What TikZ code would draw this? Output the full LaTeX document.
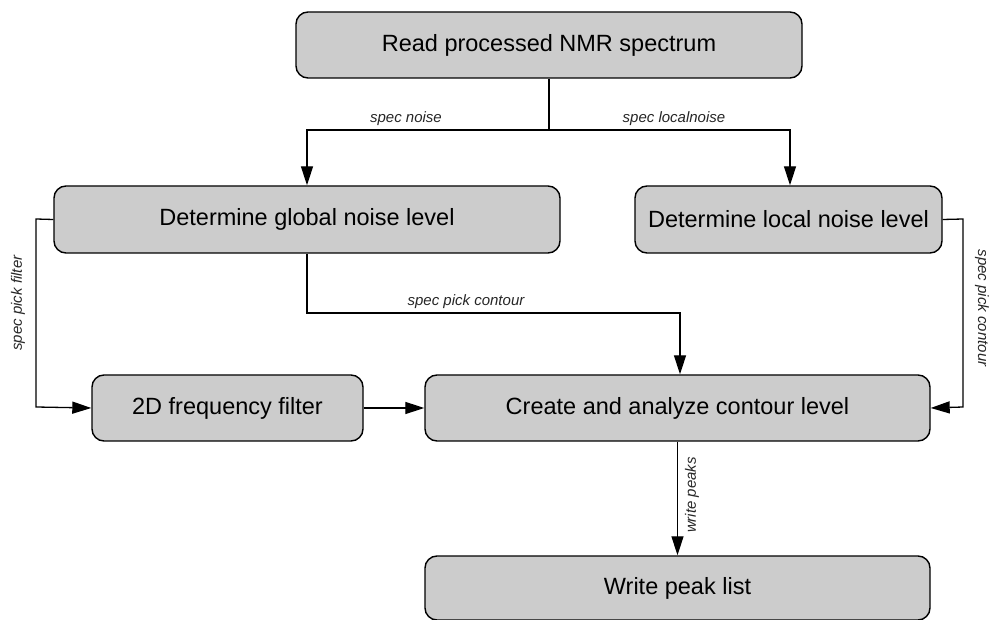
\documentclass[tikz,border=0pt]{standalone}
\usepackage{fontspec}
\setmainfont{Liberation Sans}
\usetikzlibrary{arrows.meta}
\begin{document}
\begin{tikzpicture}[x=1pt,y=-1pt,
  box/.style={draw=black, fill=boxgray, rounded corners=12pt, line width=1.4pt, inner sep=0pt, font=\fontsize{23.5}{28}\selectfont},
  conn/.style={line width=1.3pt, -{Triangle[length=19pt,width=12pt]}},
  plain/.style={line width=1.3pt},
  lbl/.style={font=\fontsize{15}{18}\selectfont\itshape, text=black!85, inner sep=0pt}]
\definecolor{boxgray}{HTML}{CCCCCC}
\useasboundingbox (0,0) rectangle (989,620);
\node[box, minimum width=506pt, minimum height=66pt] (read) at (549,45) {Read processed NMR spectrum};
\node[box, minimum width=506pt, minimum height=67pt] (glob) at (307,219.5) {Determine global noise level};
\node[box, minimum width=307pt, minimum height=67pt] (loc) at (788.5,219.5) {Determine local noise level};
\node[box, minimum width=271pt, minimum height=66pt] (filt) at (227.5,408) {2D frequency filter};
\node[box, minimum width=505pt, minimum height=66pt] (cont) at (677.5,408) {Create and analyze contour level};
\node[box, minimum width=505pt, minimum height=64pt] (peak) at (677.5,588) {Write peak list};

\coordinate (split) at (549,130);
\draw[plain] (read.south) -- (split);
\draw[conn] (split) -| (glob.north);
\draw[conn] (split) -| ([xshift=1.5pt]loc.north);
\node[lbl] (l1) at (406,119) {spec noise};
\node[lbl] (l2) at (674,119) {spec localnoise};

\coordinate (gl) at (36,219);
\coordinate (gd) at (36,407);
\draw[conn] (glob.west) -- (gl) -- (gd) -- (filt.west);
\node[lbl, rotate=90] (l3) at (18,303) {spec pick filter};

\coordinate (gb) at (307,313);
\coordinate (gr) at (680,313);
\draw[conn] (glob.south) -- (gb) -- (gr) -- ([xshift=2.5pt]cont.north);
\node[lbl] (l4) at (466,302) {spec pick contour};

\draw[conn] (filt.east) -- (cont.west);

\coordinate (lr) at (963,219);
\coordinate (ld) at (963,407);
\draw[conn] (loc.east) -- (lr) -- (ld) -- (cont.east);
\node[lbl, rotate=-90] (l5) at (982,308) {spec pick contour};

\draw[conn] (cont.south) -- (peak.north);
\node[lbl, rotate=90] (l6) at (692,495) {write peaks};
\end{tikzpicture}
\end{document}
